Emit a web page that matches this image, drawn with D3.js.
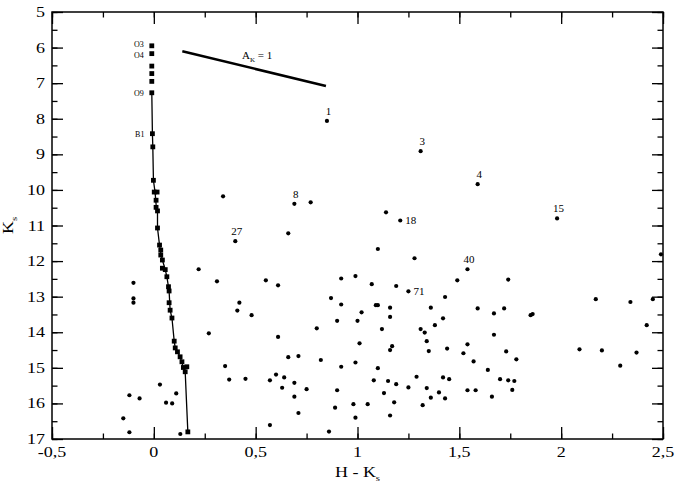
<!DOCTYPE html>
<html>
<head>
<meta charset="utf-8">
<script src="https://cdn.jsdelivr.net/npm/d3@7"></script>
<style>
body { margin: 0; background: #fff; }
text { font-family: "Liberation Serif", "Times New Roman", serif; fill: #000; }
.axis path { display: none; }
.axis line { stroke: #000; stroke-width: 1.3; }
</style>
</head>
<body>
<script>
// tick values and labels
var xTicks = [-0.5, 0, 0.5, 1, 1.5, 2, 2.5]
var xTickLabels = ["-0,5", "0", "0,5", "1", "1,5", "2", "2,5"]
var yTicks = [5, 6, 7, 8, 9, 10, 11, 12, 13, 14, 15, 16, 17]

// main sequence spectral types (squares)
var seqH = [-0.01, -0.01, -0.01, -0.01, -0.01, -0.01, -0.007, -0.005, -0.002, 0.002, 0.016,
            0.011, 0.011, 0.018, 0.018, 0.028, 0.034, 0.034, 0.042, 0.042, 0.056, 0.064,
            0.072, 0.075, 0.075, 0.080, 0.089, 0.100, 0.105, 0.116, 0.129, 0.138, 0.145,
            0.162, 0.154, 0.167]
var seqK = [5.95, 6.17, 6.52, 6.73, 6.95, 7.27, 8.42, 8.79, 9.73, 10.06, 10.06,
            10.29, 10.49, 10.59, 11.07, 11.55, 11.69, 11.83, 11.97, 12.20, 12.24, 12.44,
            12.72, 12.84, 13.17, 13.38, 13.60, 14.25, 14.44, 14.55, 14.69, 14.83, 14.99,
            14.97, 15.11, 16.80]
var seqNames = ["O3", "O4", "", "", "", "O9", "B1"]

// main sequence line
var lineH = [-0.01, -0.007, -0.005, -0.002, 0.006, 0.011, 0.018, 0.018, 0.028, 0.034, 0.042,
             0.056, 0.064, 0.075, 0.080, 0.089, 0.100, 0.105, 0.116, 0.129, 0.145, 0.154,
             0.160, 0.167]
var lineK = [7.27, 8.42, 8.79, 9.73, 10.06, 10.40, 10.59, 11.07, 11.55, 11.76, 11.97,
             12.24, 12.44, 12.84, 13.38, 13.60, 14.25, 14.44, 14.55, 14.69, 14.99, 15.11,
             15.90, 16.80]

// stars in the field
var starH = [0.85, 1.31, 1.59, 0.69, 0.77, 1.14, 1.21, 0.66, 1.98, 1.10, 1.28, 1.54, 2.49,
             0.92, 0.99, 1.07, 1.19, 1.25, 1.49, 1.74, 1.43, 0.87, 2.17, 2.45, 0.92, 1.02,
             1.09, 1.10, 1.16, 1.36, 1.59, 1.67, 1.72, 1.85, 1.86, 2.34, 2.42, 0.80, 0.90,
             1.00, 1.16, 1.12, 1.31, 1.33, 1.38, 1.42, 1.67, 1.34, 1.01, 1.17, 1.16, 1.35,
             1.44, 1.52, 1.54, 1.73, 1.78, 1.57, 1.64, 2.09, 2.20, 2.37, 2.29, 0.66, 0.71,
             0.82, 0.92, 0.99, 1.10, 0.64, 0.69, 0.63, 0.75, 0.69, 0.71, 0.90, 0.89, 0.86,
             0.99, 0.98, 1.05, 1.08, 1.15, 1.19, 1.13, 1.18, 1.16, 1.25, 1.29, 1.34, 1.36,
             1.40, 1.43, 1.32, 1.42, 1.45, 1.54, 1.58, 1.66, 1.70, 1.74, 1.77, 1.76, 0.34,
             0.40, 0.22, -0.10, 0.31, 0.55, 0.61, -0.10, -0.10, 0.42, 0.41, 0.48, 0.27, 0.61,
             0.35, 0.60, 0.37, 0.45, 0.57, 0.03, -0.12, -0.07, 0.11, 0.06, 0.09, -0.15, -0.12,
             0.13, 0.57]
var starK = [8.06, 8.91, 9.84, 10.39, 10.35, 10.63, 10.86, 11.22, 10.80, 11.66, 11.92, 12.23, 11.81,
             12.49, 12.42, 12.65, 12.70, 12.85, 12.54, 12.52, 13.01, 13.04, 13.07, 13.07, 13.22, 13.44,
             13.24, 13.24, 13.31, 13.31, 13.33, 13.47, 13.33, 13.52, 13.49, 13.15, 13.80, 13.89, 13.68,
             13.68, 13.57, 13.91, 13.91, 14.01, 13.80, 13.61, 14.07, 14.25, 14.31, 14.39, 14.50, 14.53,
             14.46, 14.59, 14.34, 14.54, 14.76, 14.82, 15.06, 14.48, 14.51, 14.57, 14.94, 14.70, 14.67,
             14.78, 14.97, 14.85, 15.01, 15.27, 15.42, 15.56, 15.60, 15.81, 16.27, 15.63, 16.12, 16.79,
             16.40, 16.02, 16.02, 15.35, 15.37, 15.46, 15.71, 15.97, 16.34, 15.55, 15.25, 15.57, 15.84,
             15.69, 15.86, 16.05, 15.27, 15.32, 15.63, 15.63, 15.81, 15.32, 15.35, 15.37, 15.62, 10.18,
             11.44, 12.23, 12.61, 12.57, 12.54, 12.68, 13.05, 13.17, 13.17, 13.39, 13.52, 14.03, 14.13,
             14.95, 15.19, 15.33, 15.31, 15.35, 15.47, 15.77, 15.86, 15.72, 15.98, 16.00, 16.42, 16.81,
             16.86, 16.61]

// numbered stars
var idNums = ["1", "3", "4", "8", "18", "15", "40", "71", "27"]
var idH = [0.85, 1.31, 1.59, 0.69, 1.21, 1.98, 1.54, 1.25, 0.40]
var idK = [8.06, 8.91, 9.84, 10.39, 10.86, 10.80, 12.23, 12.85, 11.44]
var idSide = ["top", "top", "top", "top", "right", "top", "top", "right", "top"]

// extinction vector A_K = 1
var vecH = [0.14, 0.845]
var vecK = [6.1, 7.08]

var w = 677
var h = 487
var margins = {left: 52, right: 14, upper: 12, lower: 48}

var svg = d3.select("body")
            .append("svg")
            .attr("width", w)
            .attr("height", h)

var xScale = d3.scaleLinear()
               .domain([-0.5, 2.5])
               .range([margins.left, w - margins.right])
var yScale = d3.scaleLinear()
               .domain([5, 17])
               .range([margins.upper, h - margins.lower])

var x0 = margins.left, x1 = w - margins.right
var y0 = margins.upper, y1 = h - margins.lower

var xMinor = d3.range(-0.5, 2.51, 0.25)
var yMinor = d3.range(5, 17.01, 0.5)

function addAxis(gen, tr, vals, size) {
  svg.append("g")
     .attr("class", "axis")
     .attr("transform", tr)
     .call(gen.tickValues(vals).tickSize(size).tickFormat(""))
}

// ticks inward on all four sides
addAxis(d3.axisBottom(xScale), "translate(0," + y1 + ")", xMinor, -5.5)
addAxis(d3.axisBottom(xScale), "translate(0," + y1 + ")", xTicks, -12)
addAxis(d3.axisTop(xScale), "translate(0," + y0 + ")", xMinor, -5.5)
addAxis(d3.axisTop(xScale), "translate(0," + y0 + ")", xTicks, -12)
addAxis(d3.axisLeft(yScale), "translate(" + x0 + ",0)", yMinor, -5.5)
addAxis(d3.axisLeft(yScale), "translate(" + x0 + ",0)", yTicks, -11)
addAxis(d3.axisRight(yScale), "translate(" + x1 + ",0)", yMinor, -5.5)
addAxis(d3.axisRight(yScale), "translate(" + x1 + ",0)", yTicks, -11)

// frame
svg.append("rect")
   .attr("x", x0).attr("y", y0)
   .attr("width", x1 - x0).attr("height", y1 - y0)
   .attr("fill", "none")
   .attr("stroke", "#000")
   .attr("stroke-width", 1.5)

// tick labels (slightly stretched like the original)
svg.selectAll(".xlab")
   .data(xTicks)
   .enter()
   .append("text")
   .attr("transform", function(d) {
      return "translate(" + xScale(d) + "," + (y1 + 18) + ") scale(1.2,1)"
   })
   .attr("text-anchor", "middle")
   .style("font-size", "15px")
   .text(function(d, i) { return xTickLabels[i] })

svg.selectAll(".ylab")
   .data(yTicks)
   .enter()
   .append("text")
   .attr("transform", function(d) {
      return "translate(" + (x0 - 7) + "," + (yScale(d) + 5) + ") scale(1.2,1)"
   })
   .attr("text-anchor", "end")
   .style("font-size", "15px")
   .text(function(d) { return d })

// axis titles
var xt = svg.append("text")
            .attr("transform", "translate(" + xScale(1) + "," + (y1 + 38) + ") scale(1.2,1)")
            .attr("text-anchor", "middle")
            .style("font-size", "15px")
xt.append("tspan").text("H - K")
xt.append("tspan").attr("dy", 4).style("font-size", "9px").text("s")

var yt = svg.append("text")
            .attr("transform", "translate(13," + ((y0 + y1) / 2) + ") rotate(-90) scale(1.2,1)")
            .attr("text-anchor", "middle")
            .style("font-size", "15px")
yt.append("tspan").text("K")
yt.append("tspan").attr("dy", 4).style("font-size", "9px").text("s")

// main sequence line
var line = d3.line()
             .x(function(d) { return xScale(d[0]) })
             .y(function(d) { return yScale(d[1]) })
svg.append("path")
   .datum(d3.zip(lineH, lineK))
   .attr("d", line)
   .attr("fill", "none")
   .attr("stroke", "#000")
   .attr("stroke-width", 1.3)

// main sequence squares
svg.selectAll(".sq")
   .data(d3.zip(seqH, seqK))
   .enter()
   .append("rect")
   .attr("x", function(d) { return xScale(d[0]) - 2.4 })
   .attr("y", function(d) { return yScale(d[1]) - 2.4 })
   .attr("width", 4.8)
   .attr("height", 4.8)
   .attr("fill", "#000")

// O3 and O4 sit close together, nudge them apart a bit
var seqLabDy = [1.5, 4.5, 0, 0, 0, 3, 3]
svg.selectAll(".sqlab")
   .data(seqNames)
   .enter()
   .append("text")
   .attr("x", function(d, i) { return xScale(seqH[i]) - 8 })
   .attr("y", function(d, i) { return yScale(seqK[i]) + seqLabDy[i] })
   .attr("text-anchor", "end")
   .style("font-size", "8px")
   .text(function(d) { return d })

// field stars
svg.selectAll(".star")
   .data(d3.zip(starH, starK))
   .enter()
   .append("circle")
   .attr("cx", function(d) { return xScale(d[0]) })
   .attr("cy", function(d) { return yScale(d[1]) })
   .attr("r", 2.1)
   .attr("fill", "#000")

// star numbers
svg.selectAll(".idlab")
   .data(idNums)
   .enter()
   .append("text")
   .attr("x", function(d, i) {
      return idSide[i] == "right" ? xScale(idH[i]) + 5 : xScale(idH[i]) + 1.5
   })
   .attr("y", function(d, i) {
      return idSide[i] == "right" ? yScale(idK[i]) + 3.5 : yScale(idK[i]) - 6
   })
   .attr("text-anchor", function(d, i) { return idSide[i] == "right" ? "start" : "middle" })
   .style("font-size", "11px")
   .text(function(d) { return d })

// extinction vector
svg.append("line")
   .attr("x1", xScale(vecH[0])).attr("y1", yScale(vecK[0]))
   .attr("x2", xScale(vecH[1])).attr("y2", yScale(vecK[1]))
   .attr("stroke", "#000")
   .attr("stroke-width", 2.6)

var vt = svg.append("text")
            .attr("x", 242)
            .attr("y", 59)
            .style("font-size", "11px")
vt.append("tspan").text("A")
vt.append("tspan").attr("dy", 2.5).style("font-size", "7px").text("K")
vt.append("tspan").attr("dy", -2.5).text(" = 1")
</script>
</body>
</html>
